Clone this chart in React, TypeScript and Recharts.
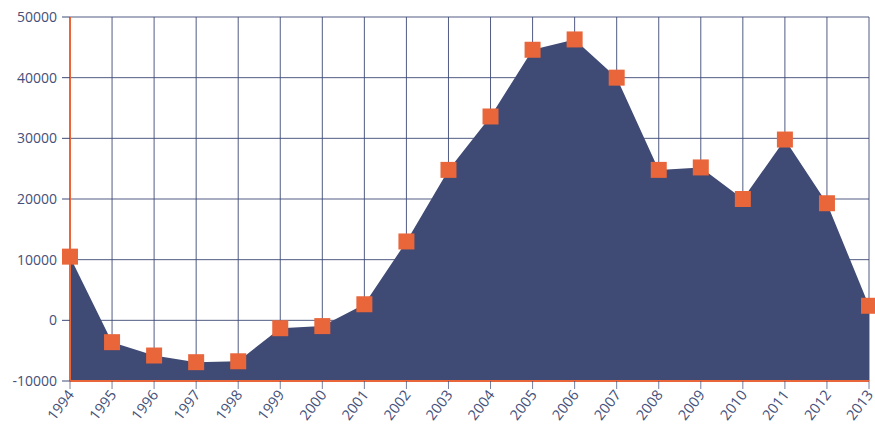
import React from 'react';
import { ComposedChart, Area, XAxis, YAxis, CartesianGrid } from 'recharts';

const years = ['1994','1995','1996','1997','1998','1999','2000','2001','2002','2003','2004','2005','2006','2007','2008','2009','2010','2011','2012','2013'];
const values = [10500, -3600, -5800, -6900, -6750, -1300, -950, 2650, 13000, 24800, 33600, 44600, 46300, 40000, 24800, 25200, 20000, 29800, 19300, 2400];
const yTicks = [-10000, 0, 10000, 20000, 30000, 40000, 50000];

const data = years.map((y, i) => ({ year: y, value: values[i] }));

const NAVY = '#3f4a75';
const ORANGE = '#e8663a';
const TEXT = '#44507a';
const FONT = '"Open Sans", sans-serif';

const SquareDot = (props: any) => {
  const { cx, cy, index } = props;
  if (cx == null || cy == null) return null;
  return <rect key={`d${index}`} x={cx - 8} y={cy - 8} width={16} height={16} fill={ORANGE} />;
};

const XTick = (props: any) => {
  const { x, y, payload } = props;
  return (
    <g transform={`translate(${x + 1},${y + 1})`}>
      <text x={0} y={0} dy={5} textAnchor="end" transform="rotate(-52)" fill={TEXT} fontSize={14.5} fontFamily={FONT}>
        {payload.value}
      </text>
    </g>
  );
};

export default function App() {
  return (
    <div style={{ position: 'absolute', left: 0, top: 0, width: 875, height: 427, background: '#fff' }}>
      <ComposedChart width={875} height={427} data={data} margin={{ top: 17, right: 6, bottom: 0, left: 0 }}>
        <CartesianGrid stroke={NAVY} strokeOpacity={0.9} />
        <XAxis
          dataKey="year"
          height={46}
          tickSize={8}
          tickLine={{ stroke: NAVY, strokeOpacity: 0.7 }}
          axisLine={{ stroke: ORANGE, strokeWidth: 2 }}
          tick={<XTick />}
          interval={0}
        />
        <YAxis
          width={70}
          domain={[-10000, 50000]}
          ticks={yTicks}
          tickSize={8}
          tickMargin={5}
          tickLine={{ stroke: NAVY }}
          axisLine={{ stroke: ORANGE, strokeWidth: 2 }}
          tick={{ fill: TEXT, fontSize: 14, fontFamily: FONT }}
          allowDataOverflow
        />
        <Area
          type="linear"
          dataKey="value"
          baseValue="dataMin"
          stroke="none"
          fill={NAVY}
          fillOpacity={1}
          dot={<SquareDot />}
          activeDot={false}
          isAnimationActive={false}
        />
      </ComposedChart>
    </div>
  );
}
